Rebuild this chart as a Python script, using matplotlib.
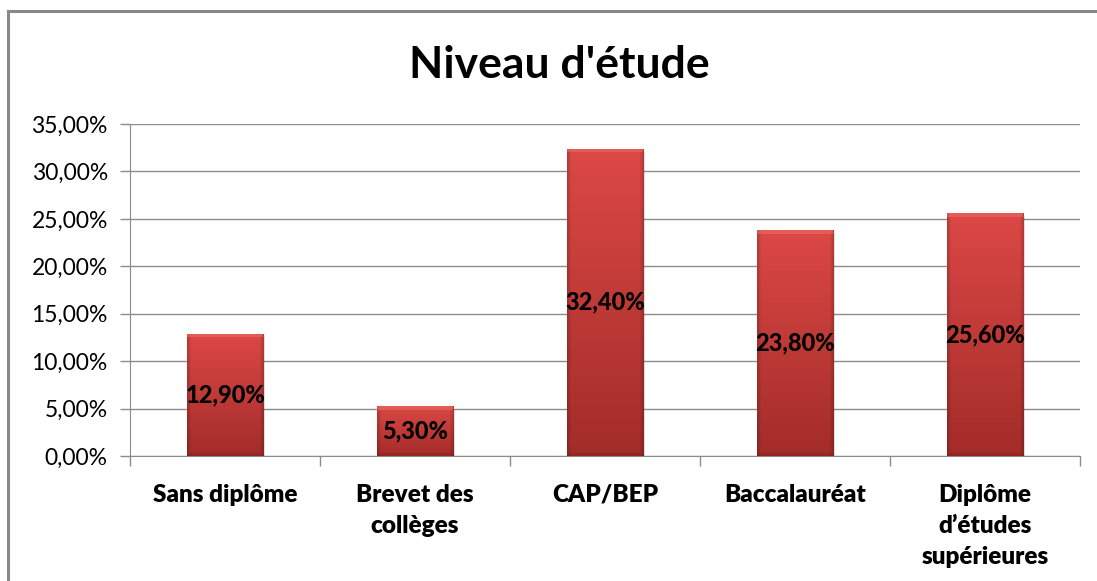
import matplotlib
matplotlib.use("Agg")
import matplotlib.pyplot as plt
import numpy as np
from matplotlib.patches import Rectangle
from matplotlib.ticker import FixedLocator, FuncFormatter

plt.rcParams["font.family"] = ["Lato", "DejaVu Sans"]

# Data
categories = ["Sans diplôme", "Brevet des\ncollèges", "CAP/BEP", "Baccalauréat",
              "Diplôme\nd’études\nsupérieures"]
values = [12.9, 5.3, 32.4, 23.8, 25.6]
value_labels = ["12,90%", "5,30%", "32,40%", "23,80%", "25,60%"]
y_ticks = [0, 5, 10, 15, 20, 25, 30, 35]

GRID = "#8C8C8C"
TOP_RED, BOTTOM_RED = "#DC4845", "#A32C29"

fig = plt.figure(figsize=(10.97, 5.81), dpi=100)
ax = fig.add_axes([130 / 1097, 1 - 456 / 581, 950 / 1097, 332 / 581])

# outer chart frame
fig.patches.append(Rectangle((8 / 1097, -0.05), 1.2, 1 - 11 / 581 + 0.05,
                             transform=fig.transFigure, fill=False,
                             edgecolor="#888888", linewidth=2.2, zorder=0))

x = np.arange(len(categories))
bw = 0.405
bars = ax.bar(x, values, width=bw, color=BOTTOM_RED, edgecolor="#8E2523",
              linewidth=0.6, zorder=3)

# gradient fill clipped to each bar
top = np.array(matplotlib.colors.to_rgb(TOP_RED))
bot = np.array(matplotlib.colors.to_rgb(BOTTOM_RED))
t = np.linspace(0, 1, 200)[:, None]
hx = np.linspace(-1, 1, 80)[None, :]
edge = 1 - 0.18 * np.clip((np.abs(hx) - 0.9) / 0.1, 0, 1)
grad = (top[None, None, :] * (1 - t[..., None]) + bot[None, None, :] * t[..., None])
grad = grad * edge[..., None]
for b in bars:
    bx, by = b.get_x(), b.get_y()
    w, h = b.get_width(), b.get_height()
    # soft shadow
    ax.add_patch(Rectangle((bx + 0.01, by - 0.3), w, h, facecolor="black",
                           alpha=0.13, linewidth=0, zorder=2.5))
    im = ax.imshow(grad, extent=[bx, bx + w, by, by + h], aspect="auto",
                   origin="upper", zorder=3.1)
    im.set_clip_path(b)
    # bevel highlight at top, darker rim at bottom
    ax.add_patch(Rectangle((bx, by + h - 0.4), w, 0.4, facecolor="#EC6A66",
                           alpha=0.6, linewidth=0, zorder=3.2))
    ax.add_patch(Rectangle((bx, by), w, 0.35, facecolor="#7A1E1C",
                           alpha=0.35, linewidth=0, zorder=3.2))

for xi, v, lab in zip(x, values, value_labels):
    ax.text(xi, v / 2, lab, ha="center", va="center", fontsize=17,
            fontweight="black", color="black", zorder=5)

ax.set_xlim(-0.5, len(categories) - 0.5)
ax.set_ylim(0, 35)
ax.yaxis.set_major_locator(FixedLocator(y_ticks))
ax.yaxis.set_major_formatter(FuncFormatter(lambda v, p: f"{v:.2f}".replace(".", ",") + "%"))
ax.grid(axis="y", color=GRID, linewidth=1.0, zorder=0)
ax.set_axisbelow(True)

ax.set_xticks(x)
ax.set_xticklabels(categories, fontsize=17.5, fontweight="heavy", linespacing=1.5)
ax.tick_params(axis="x", which="major", length=0, pad=20)
ax.xaxis.set_minor_locator(FixedLocator(np.arange(-0.5, len(categories), 1.0)))
ax.tick_params(axis="x", which="minor", length=7, color=GRID, width=1.0)
ax.tick_params(axis="y", length=7, color=GRID, width=1.0, labelsize=16.5, pad=9)

for s in ["top", "right"]:
    ax.spines[s].set_visible(False)
ax.spines["left"].set_color(GRID)
ax.spines["bottom"].set_color(GRID)

fig.text(559 / 1097, 1 - 65 / 581, "Niveau d'étude", ha="center", va="center",
         fontsize=32, fontweight="bold")

fig.savefig("out.png", dpi=100, facecolor="white")
